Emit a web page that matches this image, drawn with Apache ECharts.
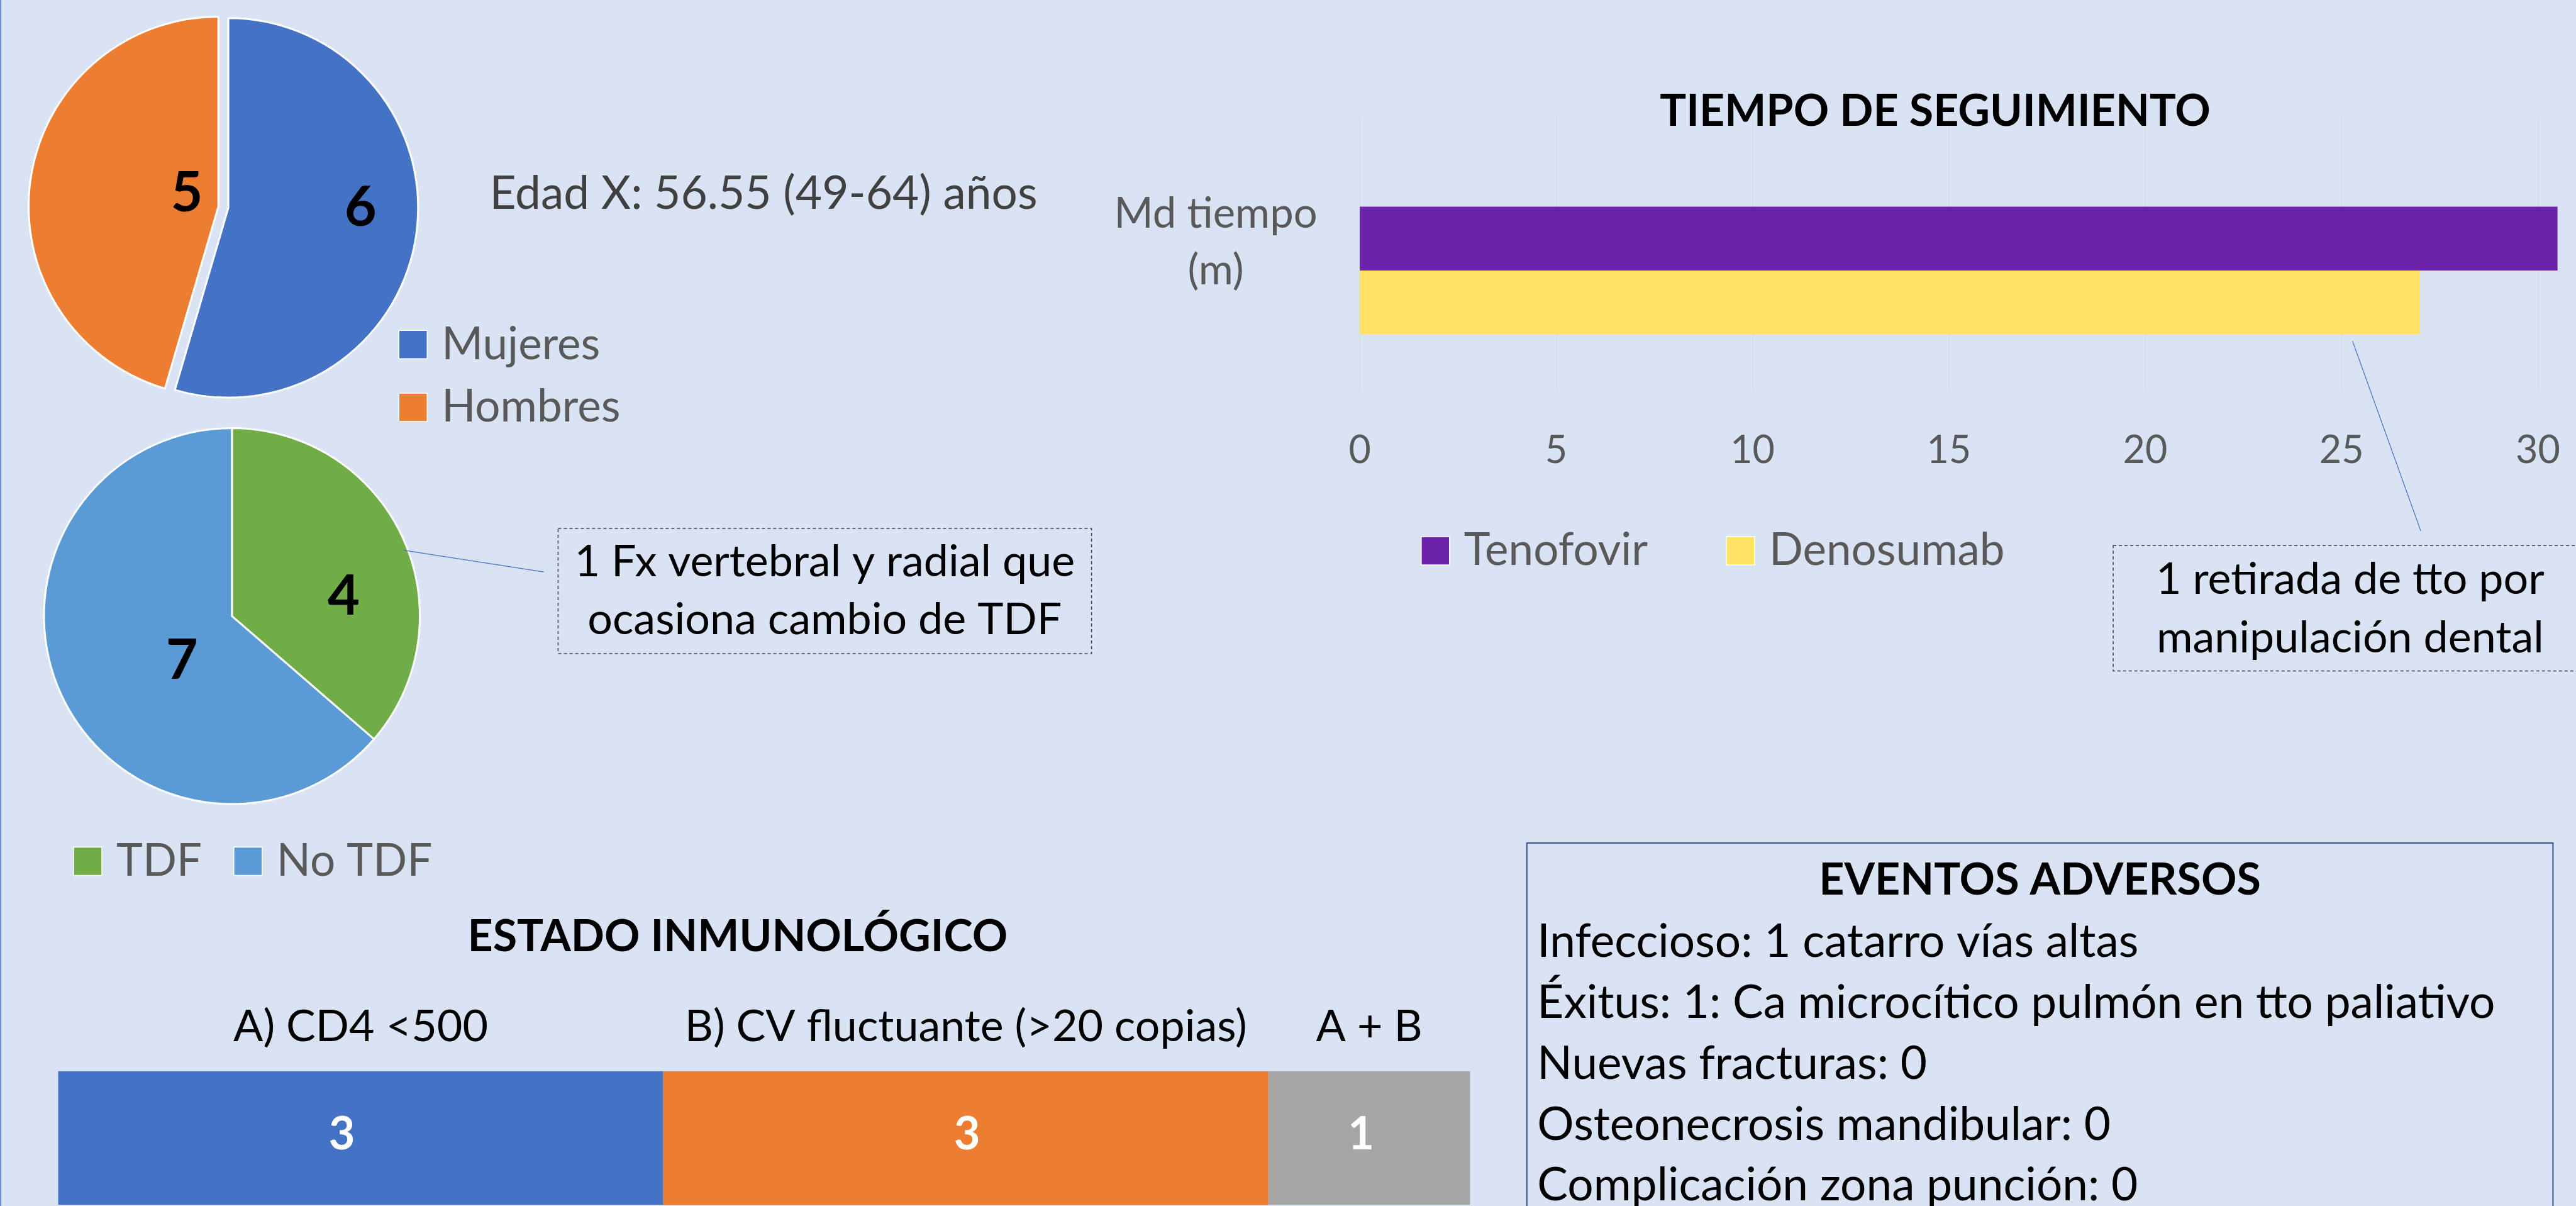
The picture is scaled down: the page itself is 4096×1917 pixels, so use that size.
<!DOCTYPE html>
<html>
<head>
<meta charset="utf-8">
<script src="https://cdn.jsdelivr.net/npm/echarts@6/dist/echarts.min.js"></script>
<style>
html,body{margin:0;padding:0;background:#DAE3F3;overflow:hidden;}
#c{width:4096px;height:1917px;}
</style>
</head>
<body>
<div id="c"></div>
<script>
// ---------------- DATA ----------------
const sexoCategorias = ['Mujeres', 'Hombres'];
const sexoValores = [6, 5];
const tdfCategorias = ['TDF', 'No TDF'];
const tdfValores = [4, 7];
const tiempoCategorias = ['Md tiempo (m)'];
const tiempoSeries = ['Tenofovir', 'Denosumab'];
const tenofovirValores = [30.5];
const denosumabValores = [27];
const tiempoEje = { min: 0, max: 30, interval: 5 };
const inmunoSeries = ['A) CD4 <500', 'B) CV fluctuante (>20 copias)', 'A + B'];
const inmunoValores = [3, 3, 1];
const edadTexto = 'Edad X: 56.55 (49-64) años';
const notaTDF = ['1 Fx vertebral y radial que', 'ocasiona cambio de TDF'];
const notaDenosumab = ['1 retirada de tto por', 'manipulación dental'];
const tituloTiempo = 'TIEMPO DE SEGUIMIENTO';
const tituloInmuno = 'ESTADO INMUNOLÓGICO';
const tituloEventos = 'EVENTOS ADVERSOS';
const eventos = [
  'Infeccioso: 1 catarro vías altas',
  'Éxitus: 1: Ca microcítico pulmón en tto paliativo',
  'Nuevas fracturas: 0',
  'Osteonecrosis mandibular: 0',
  'Complicación zona punción: 0'
];

// ---------------- STYLE / LAYOUT ----------------
const K = 4096 / 1568;              // reference (shown) px -> output px
const s = v => Math.round(v * K * 10) / 10;
const FONT = 'Lato';
const FS = 70, FS_AXIS = 61, FS_PIE = 88, FS_BAR = 72;
const sexoColores = ['#4472C4', '#ED7D31'];
const tdfColores = ['#70AD47', '#5B9BD5'];
const tiempoColores = ['#6C23A9', '#FFE264'];
const inmunoColores = ['#4472C4', '#ED7D31', '#A5A5A5'];
// label nudges (output px) to place labels like the reference
const pieShift1 = [[58, -22], [102, 1]];
const pieShift2 = [[39, 33], [59, 8]];
const inmunoLabelShift = [-30, 2, -13];

function txt(text, x, y, o) {
  o = o || {};
  const al = o.align || 'left';
  return {
    type: 'text', x: x, y: y, silent: true, z: 20,
    style: {
      text: text, fill: o.color || '#000', fontSize: o.size || FS, fontFamily: FONT,
      fontWeight: o.weight || 'normal', align: al, textAlign: al,
      verticalAlign: 'middle', textVerticalAlign: 'middle', lineHeight: o.lh
    }
  };
}
function box(x, y, w, h, stroke, lw, dash) {
  return { type: 'rect', silent: true, z: 15, shape: { x: x, y: y, width: w, height: h },
    style: { fill: 'none', stroke: stroke, lineWidth: lw, lineDash: dash || null } };
}
function line(x1, y1, x2, y2, color, lw) {
  return { type: 'line', silent: true, z: 15, shape: { x1: x1, y1: y1, x2: x2, y2: y2 },
    style: { stroke: color, lineWidth: lw } };
}

const inmunoTotal = inmunoValores.reduce((a, b) => a + b, 0);
const inmunoStart = inmunoValores.map((v, i) => inmunoValores.slice(0, i).reduce((a, b) => a + b, 0));

const legendCommon = {
  icon: 'rect', itemWidth: 45, itemHeight: 45, padding: 0,
  itemStyle: { borderColor: '#ffffff', borderWidth: 1.5 },
  textStyle: { fontSize: 71, color: '#595959', fontFamily: FONT, padding: [0, 0, 0, 18] },
  selectedMode: false
};

const pieCommon = {
  type: 'pie', startAngle: 90, clockwise: true, avoidLabelOverlap: false,
  itemStyle: { borderColor: '#ffffff', borderWidth: 3 },
  label: { show: true, position: 'inside', formatter: '{c}', fontSize: FS_PIE, fontWeight: 'bold',
           color: '#000', fontFamily: FONT },
  labelLine: { show: false },
  emphasis: { disabled: true },
  select: { itemStyle: { borderColor: '#ffffff', borderWidth: 3 } },
  silent: true
};

const chart = echarts.init(document.getElementById('c'), null, { renderer: 'canvas', width: 4096, height: 1917 });

const option = {
  animation: false,
  backgroundColor: '#DAE3F3',
  textStyle: { fontFamily: FONT },
  legend: [
    Object.assign({}, legendCommon, { data: sexoCategorias, orient: 'vertical',
      left: s(242.5), top: s(209.5) - 35, itemGap: s(38.2) - 71 }),
    Object.assign({}, legendCommon, { data: tdfCategorias, orient: 'horizontal',
      left: s(44.5), top: s(523.9) - 35, itemGap: 50 }),
    Object.assign({}, legendCommon, { data: tiempoSeries, orient: 'horizontal',
      left: s(864.8), top: s(335) - 35, itemGap: 124 })
  ],
  grid: [
    { left: s(827.7), top: s(71.4), width: s(717.1), height: s(166.2), outerBoundsMode: 'none', containLabel: false },
    { left: s(827.7), top: s(164.6) - s(83.1), width: s(717.1), height: s(166.2), outerBoundsMode: 'none', containLabel: false },
    { left: s(35.4), top: s(651.8), width: s(859.4), height: s(81.3), outerBoundsMode: 'none', containLabel: false }
  ],
  xAxis: [
    { type: 'value', gridIndex: 0, min: tiempoEje.min, max: tiempoEje.max, interval: tiempoEje.interval,
      axisLine: { show: false }, axisTick: { show: false },
      splitLine: { show: true, lineStyle: { color: '#D3D8DF', width: 1.5 } },
      axisLabel: { fontSize: FS_AXIS, color: '#595959', fontFamily: FONT, margin: 65 } },
    { type: 'value', gridIndex: 1, min: tiempoEje.min, max: tiempoEje.max, show: false,
      splitLine: { show: false } },
    { type: 'value', gridIndex: 2, min: 0, max: inmunoTotal, show: false, splitLine: { show: false } }
  ],
  yAxis: [
    { type: 'category', gridIndex: 0, data: tiempoCategorias, show: false },
    { type: 'category', gridIndex: 1, data: tiempoCategorias,
      axisLine: { show: false }, axisTick: { show: false }, splitLine: { show: false },
      axisLabel: { fontSize: 67, color: '#595959', fontFamily: FONT, align: 'center',
        margin: s(827.7) - s(740), lineHeight: 90,
        formatter: v => v.replace(' (', '\n(') + '\n ' } },
    { type: 'category', gridIndex: 2, data: ['Estado'], show: false }
  ],
  series: [
    Object.assign({}, pieCommon, {
      name: 'Sexo', center: [s(139), s(126.5)], radius: [0, s(115.5)],
      selectedMode: 'single', selectedOffset: 16,
      data: sexoCategorias.map((n, i) => ({ name: n, value: sexoValores[i], selected: i === 1,
        itemStyle: { color: sexoColores[i] } })),
      labelLayout: p => ({ dx: pieShift1[p.dataIndex][0], dy: pieShift1[p.dataIndex][1] })
    }),
    Object.assign({}, pieCommon, {
      name: 'Tratamiento', center: [s(141.2), s(374.9)], radius: [0, s(114.4)],
      data: tdfCategorias.map((n, i) => ({ name: n, value: tdfValores[i],
        itemStyle: { color: tdfColores[i] } })),
      labelLayout: p => ({ dx: pieShift2[p.dataIndex][0], dy: pieShift2[p.dataIndex][1] })
    }),
    { type: 'bar', name: tiempoSeries[0], xAxisIndex: 1, yAxisIndex: 1, data: tenofovirValores,
      barWidth: s(38.9), barGap: '0%', clip: false, silent: true,
      itemStyle: { color: tiempoColores[0] } },
    { type: 'bar', name: tiempoSeries[1], xAxisIndex: 1, yAxisIndex: 1, data: denosumabValores,
      barWidth: s(38.9), barGap: '0%', clip: false, silent: true,
      itemStyle: { color: tiempoColores[1] } }
  ].concat(inmunoSeries.map((n, i) => ({
    type: 'bar', name: n, stack: 'inmuno', xAxisIndex: 2, yAxisIndex: 2,
    data: [inmunoValores[i]], barWidth: s(81.3), silent: true,
    itemStyle: { color: inmunoColores[i] },
    label: { show: true, position: 'inside', formatter: '{c}', color: '#ffffff',
             fontSize: FS_BAR, fontWeight: 'bold', fontFamily: FONT,
             offset: [inmunoLabelShift[i], -5] },
    markPoint: {
      silent: true, symbol: 'rect', symbolSize: 1, itemStyle: { color: 'rgba(0,0,0,0)' },
      label: { show: true, position: 'inside', color: '#000', fontSize: FS, fontFamily: FONT,
               offset: [0, s(625) - (s(651.8) + s(81.3) / 2)], formatter: () => n },
      data: [{ coord: [inmunoStart[i] + inmunoValores[i] / 2, 0] }]
    }
  }))),
  graphic: [
    line(1, 0, 1, 1917, '#4472C4', 1.5),
    txt(edadTexto, s(298), s(118), { color: '#404040', size: 73 }),
    // callout TDF
    box(s(339.7), s(321.6), s(324.7), s(76.1), '#404040', 1.5, [5, 4]),
    line(s(245.6), s(334.8), s(331), s(348), '#4472C4', 1.2),
    txt(notaTDF.join('\n'), s(502), s(359.7), { align: 'center', lh: s(35.3) }),
    // bar chart title + callout
    txt(tituloTiempo, s(1177.9), s(68), { align: 'center', weight: 'bold' }),
    box(s(1286.3), s(332), s(300), s(76.3), '#404040', 1.5, [5, 4]),
    line(s(1432), s(207.6), s(1473.5), s(323), '#4472C4', 1.2),
    txt(notaDenosumab.join('\n'), s(1430.5), s(370.4), { align: 'center', lh: s(35.7) }),
    // immunological title
    txt(tituloInmuno, s(449), s(570.3), { align: 'center', weight: 'bold' }),
    // adverse events box
    box(s(929.4), s(513), s(624.6), 700, '#2F5597', 2),
    txt(tituloEventos, s(1241.7), s(535.8), { align: 'center', weight: 'bold' })
  ].concat(eventos.map((t, i) => txt(t, s(935.7), s(573.4) + i * s(37), { size: 73 })))
};

chart.setOption(option);
</script>
</body>
</html>
